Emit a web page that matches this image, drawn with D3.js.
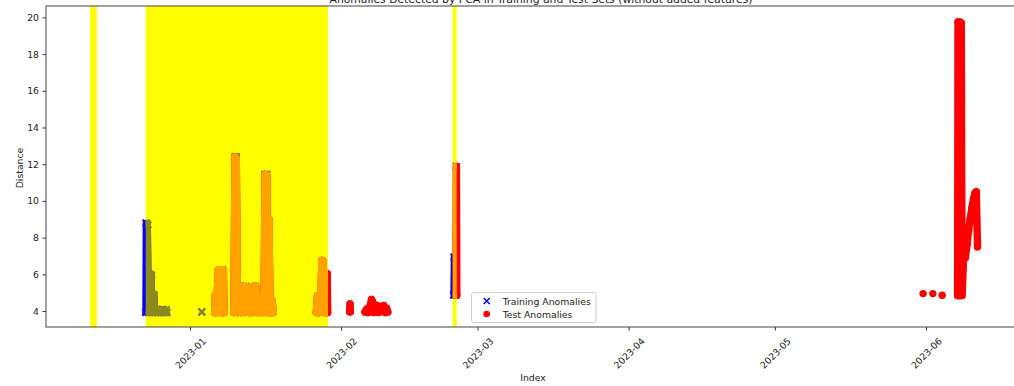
<!DOCTYPE html>
<html>
<head>
<meta charset="utf-8">
<script src="https://cdn.jsdelivr.net/npm/d3@7"></script>
<style>
  body { margin: 0; background: #fff; }
  svg { display: block; font-family: "DejaVu Sans", sans-serif; }
</style>
</head>
<body>
<div id="graph"></div>
<script>
// anomalies flagged on the training data (blue x)
var trainTimes = [
  "2022-12-22T21:00", "2022-12-22T23:00", "2022-12-23T04:00", "2022-12-23T08:00", "2022-12-23T12:00",
  "2022-12-23T18:00", "2022-12-24T02:00", "2022-12-24T06:00", "2022-12-24T10:00", "2022-12-24T16:00",
  "2022-12-24T20:00", "2022-12-25T04:00", "2022-12-25T12:00", "2022-12-25T18:00", "2022-12-26T02:00",
  "2022-12-26T10:00", "2022-12-26T18:00", "2022-12-27T02:00", "2022-12-27T06:00",
  "2023-01-03T10:00",
  "2023-01-07T08:00", "2023-01-07T14:00", "2023-01-10T06:00", "2023-01-10T12:00",
  "2023-01-12T12:00", "2023-01-14T08:00", "2023-01-16T10:00", "2023-01-16T18:00",
  "2023-02-24T02:00", "2023-02-24T04:00", "2023-02-24T06:00", "2023-02-24T15:00", "2023-02-24T15:00"
];
var trainValues = [
  3.92, 8.8, 8.75, 8.7, 3.92,
  6.0, 5.95, 3.92, 4.9, 4.85,
  3.92, 4.08, 3.92, 4.06, 3.92,
  4.08, 3.92, 4.06, 3.92,
  3.95,
  6.25, 6.25, 12.39, 12.39,
  5.34, 5.34, 11.44, 11.44,
  4.87, 6.94, 4.87, 11.88, 4.87
];

// anomalies flagged on the test data (red dots)
var testTimes = [
  "2023-01-06T02:00", "2023-01-06T04:00", "2023-01-06T10:00", "2023-01-06T14:00", "2023-01-06T20:00",
  "2023-01-07T02:00", "2023-01-07T08:00", "2023-01-07T14:00", "2023-01-07T20:00", "2023-01-08T00:00",
  "2023-01-10T00:00", "2023-01-10T06:00", "2023-01-10T12:00", "2023-01-10T18:00", "2023-01-11T02:00",
  "2023-01-11T10:00", "2023-01-11T18:00", "2023-01-12T04:00", "2023-01-12T12:00", "2023-01-12T20:00",
  "2023-01-13T04:00", "2023-01-13T12:00", "2023-01-13T20:00", "2023-01-14T04:00", "2023-01-14T12:00",
  "2023-01-14T20:00", "2023-01-15T04:00", "2023-01-15T12:00", "2023-01-15T20:00", "2023-01-16T04:00",
  "2023-01-16T10:00", "2023-01-16T18:00", "2023-01-17T00:00", "2023-01-17T04:00", "2023-01-17T10:00",
  "2023-01-17T14:00", "2023-01-17T20:00", "2023-01-18T02:00",
  "2023-01-26T22:00", "2023-01-27T04:00", "2023-01-27T12:00", "2023-01-27T20:00", "2023-01-28T02:00",
  "2023-01-28T08:00", "2023-01-28T12:00", "2023-01-28T20:00", "2023-01-29T04:00", "2023-01-29T06:00",
  "2023-02-02T18:00", "2023-02-02T20:00", "2023-02-02T22:00",
  "2023-02-05T22:00", "2023-02-06T06:00", "2023-02-06T14:00", "2023-02-06T22:00", "2023-02-07T06:00",
  "2023-02-07T12:00", "2023-02-07T18:00", "2023-02-08T02:00", "2023-02-08T10:00", "2023-02-08T18:00",
  "2023-02-09T02:00", "2023-02-09T10:00", "2023-02-09T18:00", "2023-02-10T02:00", "2023-02-10T08:00",
  "2023-02-10T14:00",
  "2023-02-24T14:00", "2023-02-24T16:00", "2023-02-24T18:00",
  "2023-05-31T10:00", "2023-06-02T10:00", "2023-06-04T08:00",
  "2023-06-07T12:00", "2023-06-07T14:00", "2023-06-07T18:00", "2023-06-07T22:00", "2023-06-08T02:00",
  "2023-06-08T06:00", "2023-06-08T10:00",
  "2023-06-08T18:00", "2023-06-09T02:00", "2023-06-09T10:00", "2023-06-09T18:00", "2023-06-10T02:00",
  "2023-06-10T10:00", "2023-06-10T18:00", "2023-06-11T02:00", "2023-06-11T08:00", "2023-06-11T14:00"
];
var testValues = [
  3.92, 4.85, 3.92, 4.85, 6.25,
  3.92, 6.25, 3.92, 6.25, 3.92,
  3.92, 12.39, 12.3, 3.92, 4.85,
  3.92, 5.34, 3.92, 5.34, 5.3,
  3.92, 5.25, 3.92, 5.34, 5.34,
  3.92, 4.56, 3.92, 4.56, 3.92,
  11.44, 11.4, 3.92, 9.0, 4.8,
  3.92, 4.56, 3.92,
  3.92, 4.85, 3.92, 4.85, 6.75,
  6.7, 3.92, 3.92, 6.03, 3.92,
  3.96, 4.39, 3.96,
  3.95, 4.1, 3.92, 4.25, 4.63,
  4.5, 3.92, 4.25, 4.3, 3.92,
  4.1, 4.25, 4.3, 3.92, 4.15,
  3.95,
  4.87, 11.88, 4.87,
  4.95, 4.95, 4.86,
  4.85, 19.75, 4.85, 19.75, 4.85,
  19.7, 4.85,
  7.1, 6.9, 7.6, 8.4, 9.0,
  9.6, 10.1, 10.45, 10.5, 7.5
];

// highlighted periods
var bandStarts = ["2022-12-11T12:00", "2022-12-22T22:00", "2023-02-23T21:30"];
var bandEnds = ["2022-12-12T21:00", "2023-01-29T07:30", "2023-02-24T17:15"];

var yTicks = [4, 6, 8, 10, 12, 14, 16, 18, 20];
var xTicks = ["2023-01-01T00:00", "2023-02-01T00:00", "2023-03-01T00:00", "2023-04-01T00:00", "2023-05-01T00:00", "2023-06-01T00:00"];
var xTickLabels = ["2023-01", "2023-02", "2023-03", "2023-04", "2023-05", "2023-06"];
var legendLabels = ["Training Anomalies", "Test Anomalies"];

var parse = d3.timeParse("%Y-%m-%dT%H:%M");

var w = 1014;
var h = 386;
var plotLeft = 46, plotTop = 6, plotRight = 1036, plotBottom = 327;

var vis = d3.select("#graph")
  .append("svg")
  .attr("width", w)
  .attr("height", h);

var x = d3.scaleTime()
  .domain([parse("2022-12-02T11:00"), parse("2023-06-23T14:00")])
  .range([plotLeft, plotRight]);
var y = d3.scaleLinear()
  .domain([3.13, 20.62])
  .range([plotBottom, plotTop]);

var bands = bandStarts.map(function(s, i) { return {start: parse(s), end: parse(bandEnds[i])}; });

var defs = vis.append("defs");
defs.append("clipPath").attr("id", "plot-clip")
  .append("rect")
  .attr("x", plotLeft).attr("y", plotTop)
  .attr("width", plotRight - plotLeft).attr("height", plotBottom - plotTop);
defs.append("clipPath").attr("id", "band-clip")
  .selectAll("rect")
  .data(bands)
  .enter()
  .append("rect")
  .attr("x", function(d) { return x(d.start); })
  .attr("y", plotTop)
  .attr("width", function(d) { return x(d.end) - x(d.start); })
  .attr("height", plotBottom - plotTop);

var plot = vis.append("g").attr("clip-path", "url(#plot-clip)");

plot.selectAll("rect.band")
  .data(bands)
  .enter()
  .append("rect")
  .attr("class", "band")
  .attr("x", function(d) { return x(d.start); })
  .attr("y", plotTop)
  .attr("width", function(d) { return x(d.end) - x(d.start); })
  .attr("height", plotBottom - plotTop)
  .attr("fill", "#ffff00");

function toPoints(times, values) {
  return times.map(function(t, i) { return {t: parse(t), v: values[i]}; });
}

// consecutive readings close in time are drawn as one dense streak
function splitRuns(points) {
  var runs = [], cur = [];
  points.forEach(function(p, i) {
    if (i > 0 && (p.t - points[i - 1].t) > 8.5 * 3600 * 1000) { runs.push(cur); cur = []; }
    cur.push(p);
  });
  runs.push(cur);
  return runs;
}

var line = d3.line()
  .x(function(d) { return x(d.t); })
  .y(function(d) { return y(d.v); });

function drawSeries(g, points, color, kind) {
  var runs = splitRuns(points).filter(function(r) { return r.length > 1; });
  g.selectAll("path.run")
    .data(runs)
    .enter()
    .append("path")
    .attr("class", "run")
    .attr("d", line)
    .attr("fill", "none")
    .attr("stroke", color)
    .attr("stroke-width", kind === "x" ? 6.5 : 7.4)
    .attr("stroke-linecap", "round")
    .attr("stroke-linejoin", "round");

  if (kind === "x") {
    g.selectAll("path.mark")
      .data(points)
      .enter()
      .append("path")
      .attr("class", "mark")
      .attr("d", "M-3.3,-3.3L3.3,3.3M-3.3,3.3L3.3,-3.3")
      .attr("transform", function(d) { return "translate(" + x(d.t) + "," + y(d.v) + ")"; })
      .attr("stroke", color)
      .attr("stroke-width", 2);
  } else {
    g.selectAll("circle.mark")
      .data(points)
      .enter()
      .append("circle")
      .attr("class", "mark")
      .attr("cx", function(d) { return x(d.t); })
      .attr("cy", function(d) { return y(d.v); })
      .attr("r", 3.7)
      .attr("fill", color);
  }
}

var trainPts = toPoints(trainTimes, trainValues);
var testPts = toPoints(testTimes, testValues);

drawSeries(plot.append("g"), trainPts, "#0000ff", "x");
drawSeries(plot.append("g").attr("clip-path", "url(#band-clip)"), trainPts, "#8c8a1e", "x");
drawSeries(plot.append("g"), testPts, "#ff0000", "o");
drawSeries(plot.append("g").attr("clip-path", "url(#band-clip)"), testPts, "#ffa200", "o");

// axes
var yAxis = vis.append("g")
  .attr("transform", "translate(" + plotLeft + ",0)")
  .call(d3.axisLeft(y).tickValues(yTicks).tickSize(3.5).tickPadding(3.5).tickFormat(d3.format("d")));
yAxis.select(".domain").remove();
yAxis.selectAll("line").attr("stroke", "#333");
yAxis.selectAll("text")
  .attr("fill", "#222")
  .style("font-size", "9.3px")
  .style("font-family", "DejaVu Sans");

var xAxis = vis.append("g")
  .attr("transform", "translate(0," + plotBottom + ")")
  .call(d3.axisBottom(x)
    .tickValues(xTicks.map(parse))
    .tickSize(3.5)
    .tickFormat(function(d, i) { return xTickLabels[i]; }));
xAxis.select(".domain").remove();
xAxis.selectAll("line").attr("stroke", "#333");
xAxis.selectAll("text")
  .attr("y", 0)
  .attr("dy", null)
  .attr("text-anchor", "middle")
  .attr("dominant-baseline", "central")
  .attr("transform", "translate(0,26) rotate(-45)")
  .attr("fill", "#222")
  .style("font-size", "9.3px")
  .style("font-family", "DejaVu Sans");

// frame
vis.append("rect")
  .attr("x", plotLeft)
  .attr("y", plotTop)
  .attr("width", plotRight - plotLeft)
  .attr("height", plotBottom - plotTop)
  .attr("fill", "none")
  .attr("stroke", "#444")
  .attr("stroke-width", 1);

// labels
vis.append("text")
  .attr("x", 541)
  .attr("y", 3)
  .attr("text-anchor", "middle")
  .attr("fill", "#222")
  .style("font-size", "10.8px")
  .text("Anomalies Detected by PCA in Training and Test Sets (without added features)");

vis.append("text")
  .attr("x", 533)
  .attr("y", 377)
  .attr("text-anchor", "middle")
  .attr("dominant-baseline", "central")
  .attr("fill", "#222")
  .style("font-size", "9.3px")
  .text("Index");

vis.append("text")
  .attr("transform", "translate(19,168) rotate(-90)")
  .attr("text-anchor", "middle")
  .attr("dominant-baseline", "central")
  .attr("fill", "#222")
  .style("font-size", "9.3px")
  .text("Distance");

// legend
var legend = vis.append("g");
legend.append("rect")
  .attr("x", 471.5)
  .attr("y", 292.5)
  .attr("width", 124.5)
  .attr("height", 30)
  .attr("rx", 2)
  .attr("fill", "#fff")
  .attr("fill-opacity", 0.8)
  .attr("stroke", "#d0d0d0");

var rows = legend.selectAll("g.row")
  .data(legendLabels)
  .enter()
  .append("g")
  .attr("class", "row")
  .attr("transform", function(d, i) { return "translate(486.7," + (301 + i * 13) + ")"; });

rows.filter(function(d, i) { return i === 0; })
  .append("path")
  .attr("d", "M-3,-3L3,3M-3,3L3,-3")
  .attr("stroke", "#0000ff")
  .attr("stroke-width", 1.6);
rows.filter(function(d, i) { return i === 1; })
  .append("circle")
  .attr("r", 3.3)
  .attr("fill", "#ff0000");

rows.append("text")
  .attr("x", 16)
  .attr("dominant-baseline", "central")
  .attr("fill", "#222")
  .style("font-size", "9.3px")
  .text(function(d) { return d; });
</script>
</body>
</html>
